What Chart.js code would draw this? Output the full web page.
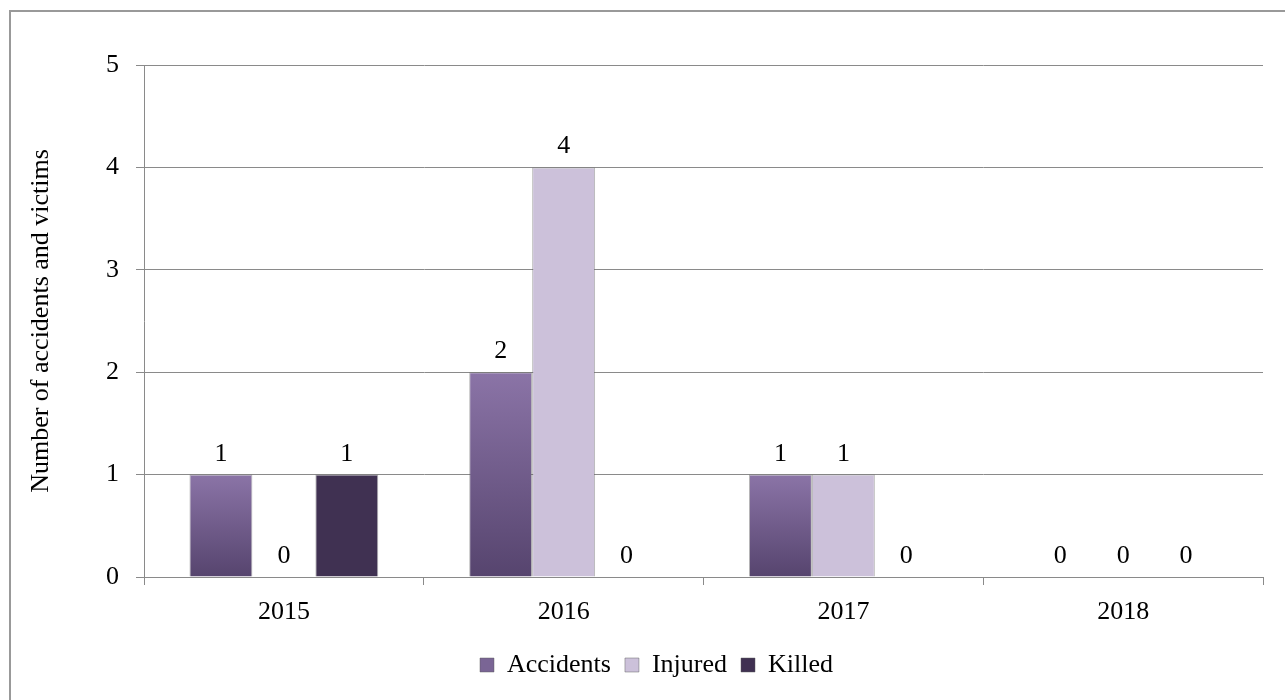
<!DOCTYPE html>
<html>
<head>
<meta charset="utf-8">
<script src="https://cdn.jsdelivr.net/npm/chart.js@4/dist/chart.umd.min.js"></script>
<style>
  html, body { margin: 0; padding: 0; background: #ffffff; }
  #chart { display: block; }
</style>
</head>
<body>
<canvas id="chart" width="1285" height="700"></canvas>
<script>
// Chart data
const years = ['2015', '2016', '2017', '2018'];
const accidents = [1, 2, 1, 0];
const injured = [0, 4, 1, 0];
const killed = [1, 0, 0, 0];
const yTicks = [0, 1, 2, 3, 4, 5];

const FONT = '"Liberation Serif", "Times New Roman", serif';
const FONT_SIZE = 26;

// Gradient for the accidents bars, from the top of each bar to the axis
function accidentsFill(context) {
    const chart = context.chart;
    const yScale = chart.scales.y;
    if (!yScale || context.type !== 'data') return '#7a6595';
    const top = yScale.getPixelForValue(context.raw);
    const bottom = yScale.getPixelForValue(0);
    if (bottom - top < 1) return '#7a6595';
    const grad = chart.ctx.createLinearGradient(0, top, 0, bottom);
    grad.addColorStop(0, '#8b74a7');
    grad.addColorStop(1, '#56446e');
    return grad;
}

// Frame around the whole chart
const framePlugin = {
    id: 'frame',
    beforeDraw(chart) {
        const ctx = chart.ctx;
        ctx.save();
        ctx.fillStyle = '#ffffff';
        ctx.fillRect(0, 0, chart.width, chart.height);
        ctx.strokeStyle = '#999999';
        ctx.lineWidth = 2;
        ctx.strokeRect(10, 11, chart.width + 20, chart.height + 20);
        ctx.restore();
    }
};

// Nudge the legend right so it sits where the original one does
const legendShift = {
    id: 'legendShift',
    afterLayout(chart) {
        if (chart.legend) chart.legend.left += 50;
    }
};

// Value labels above every bar, zeros included
const valueLabels = {
    id: 'valueLabels',
    afterDatasetsDraw(chart) {
        const ctx = chart.ctx;
        ctx.save();
        ctx.font = FONT_SIZE + 'px ' + FONT;
        ctx.fillStyle = '#000000';
        ctx.textAlign = 'center';
        ctx.textBaseline = 'alphabetic';
        chart.data.datasets.forEach((ds, i) => {
            const meta = chart.getDatasetMeta(i);
            meta.data.forEach((bar, j) => {
                ctx.fillText(String(ds.data[j]), bar.x, bar.y - 14);
            });
        });
        ctx.restore();
    }
};

const ctx = document.getElementById('chart').getContext('2d');
new Chart(ctx, {
    type: 'bar',
    data: {
        labels: years,
        datasets: [
            {
                label: 'Accidents',
                data: accidents,
                backgroundColor: accidentsFill,
                borderColor: 'rgba(90,90,90,0.45)',
                borderWidth: 1
            },
            {
                label: 'Injured',
                data: injured,
                backgroundColor: '#ccc1da',
                borderColor: 'rgba(90,90,90,0.45)',
                borderWidth: 1
            },
            {
                label: 'Killed',
                data: killed,
                backgroundColor: '#403152',
                borderColor: 'rgba(90,90,90,0.45)',
                borderWidth: 1
            }
        ]
    },
    options: {
        responsive: false,
        animation: false,
        layout: { padding: { top: 65, right: 22, bottom: 12, left: 0 } },
        datasets: {
            bar: { categoryPercentage: 0.675, barPercentage: 1.0 }
        },
        scales: {
            x: {
                grid: {
                    offset: true,
                    drawOnChartArea: false,
                    drawTicks: true,
                    tickLength: 8,
                    color: '#8a8a8a'
                },
                border: { color: '#8a8a8a', width: 1 },
                ticks: {
                    color: '#000000',
                    padding: 12,
                    font: { family: FONT, size: FONT_SIZE }
                },
                afterFit(scale) { scale.height = 61; }
            },
            y: {
                min: 0,
                max: 5,
                afterBuildTicks(scale) {
                    scale.ticks = yTicks.map(v => ({ value: v }));
                },
                grid: {
                    color: '#8a8a8a',
                    lineWidth: 1,
                    tickLength: 8
                },
                border: { color: '#8a8a8a', width: 1 },
                ticks: {
                    color: '#000000',
                    padding: 17,
                    font: { family: FONT, size: FONT_SIZE }
                },
                title: {
                    display: true,
                    text: 'Number of accidents and victims',
                    color: '#000000',
                    padding: { top: 26, bottom: 0 },
                    font: { family: FONT, size: FONT_SIZE }
                },
                afterFit(scale) { scale.width = 144; }
            }
        },
        plugins: {
            legend: {
                position: 'bottom',
                labels: {
                    color: '#000000',
                    boxWidth: 14,
                    boxHeight: 14,
                    padding: 14,
                    font: { family: FONT, size: FONT_SIZE },
                    generateLabels(chart) {
                        const fills = ['#7a6595', '#ccc1da', '#403152'];
                        return chart.data.datasets.map((ds, i) => ({
                            text: ds.label,
                            fillStyle: fills[i],
                            strokeStyle: 'rgba(90,90,90,0.45)',
                            lineWidth: 1,
                            fontColor: '#000000',
                            hidden: false,
                            datasetIndex: i
                        }));
                    }
                }
            },
            tooltip: { enabled: false }
        }
    },
    plugins: [framePlugin, legendShift, valueLabels]
});
</script>
</body>
</html>
